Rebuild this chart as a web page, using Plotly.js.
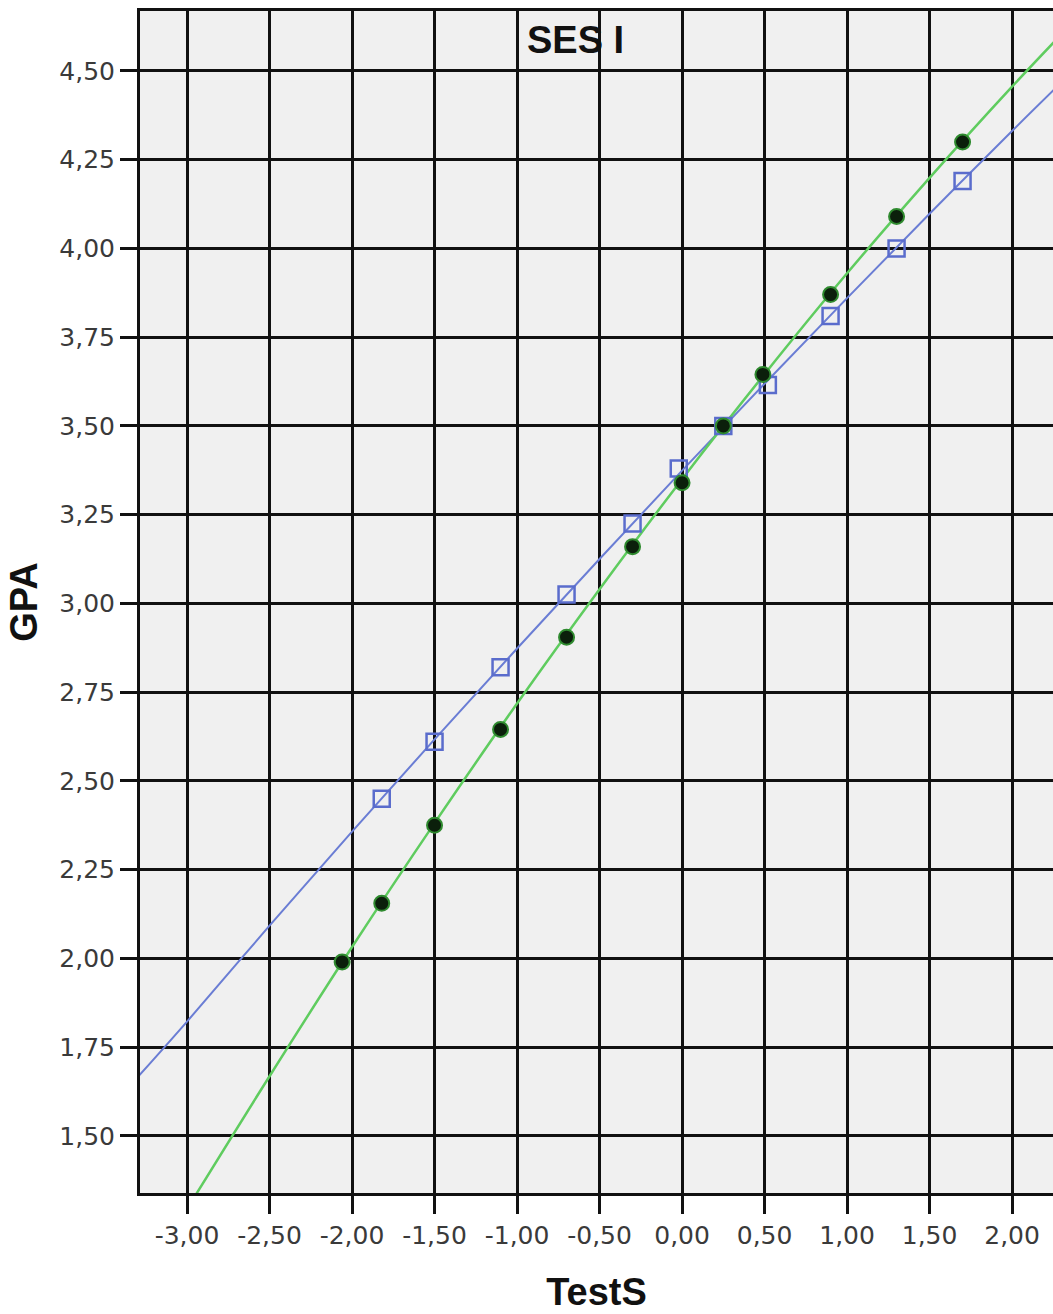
<!DOCTYPE html>
<html>
<head>
<meta charset="utf-8">
<script src="https://cdn.plot.ly/plotly-3.0.1.min.js"></script>
<style>html,body{margin:0;padding:0;background:#fff;}#chart{width:1053px;height:1314px;}</style>
</head>
<body>
<div id="chart"></div>
<script>
// Observed points (TestS, GPA)
const blueX = [-1.82, -1.50, -1.10, -0.70, -0.30, -0.02, 0.25, 0.52, 0.90, 1.30, 1.70];
const blueY = [2.45, 2.61, 2.82, 3.025, 3.225, 3.38, 3.50, 3.615, 3.81, 4.00, 4.19];
const greenX = [-2.06, -1.82, -1.50, -1.10, -0.70, -0.30, 0.00, 0.25, 0.49, 0.90, 1.30, 1.70];
const greenY = [1.99, 2.155, 2.375, 2.645, 2.905, 3.16, 3.34, 3.50, 3.645, 3.87, 4.09, 4.30];

// Fit lines
const blueFitX = [-3.30, -3.00, -2.50, -2.00, -1.50, -1.00, -0.50, 0.00, 0.50, 1.00, 1.50, 2.00, 2.26];
const blueFitY = [1.665, 1.822, 2.092, 2.357, 2.617, 2.873, 3.125, 3.374, 3.619, 3.860, 4.098, 4.331, 4.450];
const greenFitX = [-3.00, -2.50, -2.00, -1.50, -1.00, -0.50, 0.00, 0.50, 1.00, 1.50, 2.00, 2.30];
const greenFitY = [1.294, 1.668, 2.032, 2.381, 2.718, 3.040, 3.350, 3.646, 3.930, 4.199, 4.456, 4.604];

// Axis ticks
const xTickVals = [-3, -2.5, -2, -1.5, -1, -0.5, 0, 0.5, 1, 1.5, 2];
const xTickText = ['-3,00', '-2,50', '-2,00', '-1,50', '-1,00', '-0,50', '0,00', '0,50', '1,00', '1,50', '2,00'];
const yTickVals = [1.5, 1.75, 2, 2.25, 2.5, 2.75, 3, 3.25, 3.5, 3.75, 4, 4.25, 4.5];
const yTickText = ['1,50', '1,75', '2,00', '2,25', '2,50', '2,75', '3,00', '3,25', '3,50', '3,75', '4,00', '4,25', '4,50'];

const titleText = 'SES I';
const xTitle = 'TestS';
const yTitle = 'GPA';

const traces = [
  {x: blueFitX, y: blueFitY, mode: 'lines', type: 'scatter', line: {color: '#6a7dd4', width: 2, shape: 'spline'}, hoverinfo: 'skip', showlegend: false},
  {x: greenFitX, y: greenFitY, mode: 'lines', type: 'scatter', line: {color: '#5fcc5f', width: 2.5, shape: 'spline'}, hoverinfo: 'skip', showlegend: false},
  {x: blueX, y: blueY, mode: 'markers', type: 'scatter', marker: {symbol: 'square-open', size: 16, color: '#5a6ccc', line: {width: 2.5, color: '#5a6ccc'}}, showlegend: false},
  {x: greenX, y: greenY, mode: 'markers', type: 'scatter', marker: {symbol: 'circle', size: 15, color: '#0b1f0b', line: {width: 2, color: '#2f8a2f'}}, showlegend: false}
];

const tickFont = {family: 'DejaVu Sans, sans-serif', size: 25, color: '#3a3a3a'};
const titleFont = {family: 'Liberation Sans, Arial, sans-serif', size: 38, color: '#111', weight: 'bold'};

const layout = {
  width: 1053,
  height: 1314,
  margin: {l: 140, r: 0, t: 11, b: 121},
  paper_bgcolor: '#ffffff',
  plot_bgcolor: '#f0f0f0',
  showlegend: false,
  xaxis: {
    range: [-3.285, 2.248],
    tickvals: xTickVals,
    ticktext: xTickText,
    tickfont: tickFont,
    ticks: 'outside',
    ticklen: 18,
    tickwidth: 3,
    tickcolor: '#111',
    showgrid: true,
    gridcolor: '#111',
    gridwidth: 3,
    zeroline: false,
    showline: true,
    linecolor: '#111',
    linewidth: 3,
    mirror: true,
    automargin: false,
    title: {text: xTitle, font: titleFont, standoff: 30}
  },
  yaxis: {
    range: [1.339, 4.669],
    tickvals: yTickVals,
    ticktext: yTickText,
    tickfont: tickFont,
    ticks: 'outside',
    ticklen: 17,
    tickwidth: 3,
    tickcolor: '#111',
    showgrid: true,
    gridcolor: '#111',
    gridwidth: 3,
    zeroline: false,
    showline: true,
    linecolor: '#111',
    linewidth: 3,
    mirror: false,
    automargin: false,
    title: {text: yTitle, font: titleFont, standoff: 11}
  },
  annotations: [
    {text: titleText, xref: 'paper', yref: 'paper', x: 0.4775, y: 0.9755, xanchor: 'center', yanchor: 'middle', showarrow: false, font: titleFont}
  ]
};

Plotly.newPlot('chart', traces, layout, {staticPlot: true, displayModeBar: false});
</script>
</body>
</html>
